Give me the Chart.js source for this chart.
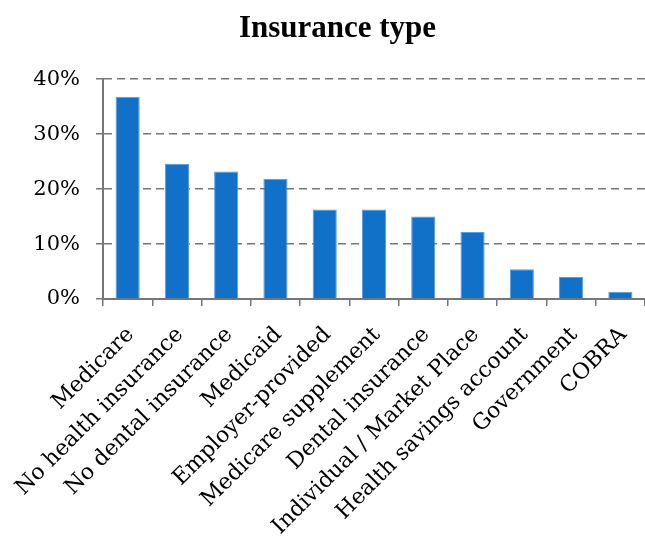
<!DOCTYPE html>
<html>
<head>
<meta charset="utf-8">
<script src="https://cdn.jsdelivr.net/npm/chart.js@4"></script>
<style>
  html, body { margin: 0; padding: 0; background: #fff; }
  #wrap { width: 645px; height: 538px; }
</style>
</head>
<body>
<div id="wrap"><canvas id="insuranceChart" width="645" height="538"></canvas></div>
<script>
// ===== Insurance type chart =====
const categories = [
  'Medicare', 'No health insurance', 'No dental insurance', 'Medicaid',
  'Employer-provided', 'Medicare supplement', 'Dental insurance',
  'Individual / Market Place', 'Health savings account', 'Government', 'COBRA'
]
const shares = [36.8, 24.6, 23.2, 21.9, 16.3, 16.3, 15.0, 12.2, 5.4, 4.0, 1.3]
const yTicks = [0, 10, 20, 30, 40]

const serif = "'DejaVu Serif', 'Liberation Serif', serif"
const titleSerif = "'Liberation Serif', 'DejaVu Serif', serif"
const axisGray = '#767676'

const ctx = document.getElementById('insuranceChart').getContext('2d')
new Chart(ctx, {
  type: 'bar',
  data: {
    labels: categories,
    datasets: [{
      label: 'Insurance type',
      data: shares,
      backgroundColor: '#1170c8',
      borderColor: '#5a9bdc',
      borderWidth: { top: 1, left: 1, right: 1, bottom: 0 },
      barPercentage: 0.49,
      categoryPercentage: 1
    }]
  },
  options: {
    responsive: false,
    animation: false,
    // left padding keeps the title centred where the original sits
    layout: { padding: { left: 30, right: 0, top: 0, bottom: 0 } },
    plugins: {
      legend: { display: false },
      tooltip: { enabled: false },
      title: {
        display: true,
        text: 'Insurance type',
        color: '#000',
        font: { family: titleSerif, size: 31, weight: 'bold' },
        padding: { top: 10, bottom: 32 }
      }
    },
    scales: {
      y: {
        min: 0,
        max: 40,
        afterBuildTicks: axis => { axis.ticks = yTicks.map(v => ({ value: v })) },
        afterFit: axis => { axis.width = 73 },
        grid: { color: axisGray, lineWidth: 1.5, tickLength: 7, tickColor: axisGray },
        border: { color: axisGray, width: 2, dash: [8, 5] },
        ticks: {
          color: '#000',
          padding: 16,
          font: { family: serif, size: 21 },
          callback: v => v + '%'
        }
      },
      x: {
        afterFit: axis => {
          axis.height = 239
          axis.paddingLeft = 0
          axis.paddingRight = 0
        },
        border: { color: axisGray, width: 2 },
        grid: { drawOnChartArea: false, tickLength: 7, tickColor: axisGray, lineWidth: 1.5 },
        ticks: {
          color: '#000',
          minRotation: 45,
          maxRotation: 45,
          autoSkip: false,
          padding: 16,
          labelOffset: 3,
          font: { family: serif, size: 22 }
        }
      }
    }
  }
})
</script>
</body>
</html>
